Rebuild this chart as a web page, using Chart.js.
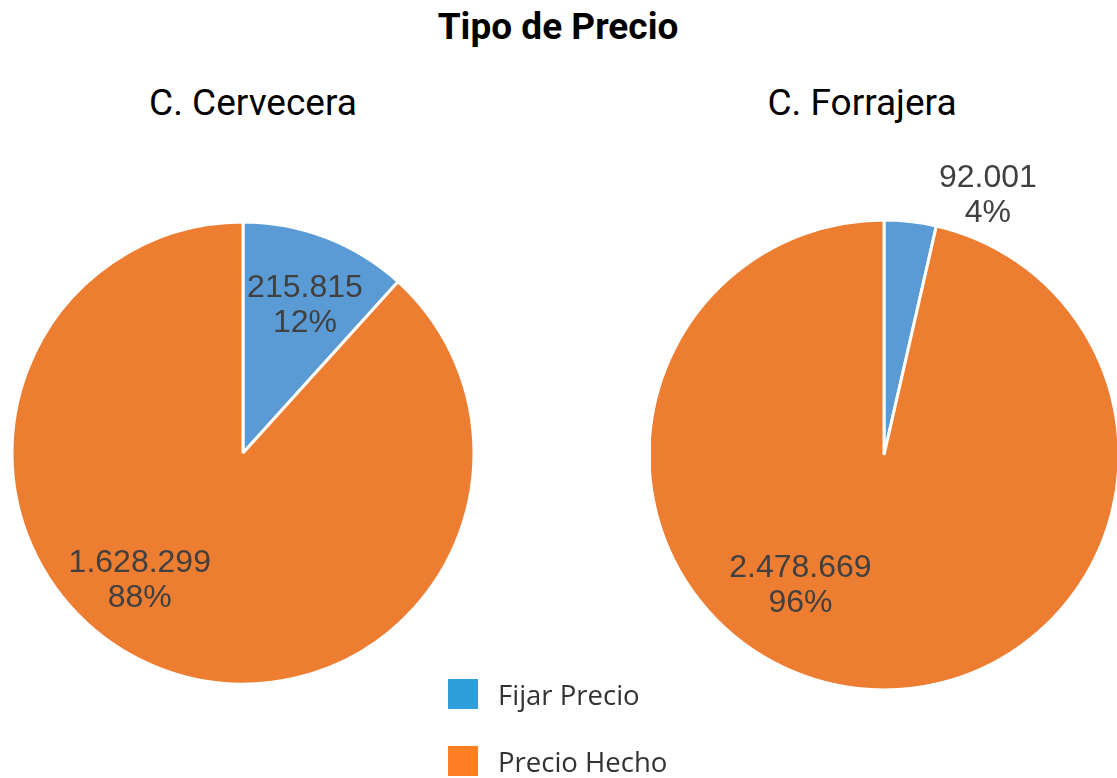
<!DOCTYPE html>
<html>
<head>
<meta charset="utf-8">
<script src="https://cdn.jsdelivr.net/npm/chart.js@4.4.1/dist/chart.umd.min.js"></script>
<style>
  body { margin: 0; background: #fff; width: 1117px; height: 778px; position: relative; overflow: hidden; }
  .txt { position: absolute; font-family: Roboto, sans-serif; color: #000; white-space: nowrap; transform: translateX(-50%); }
  #title { left: 558px; top: 5px; font-size: 37px; font-weight: bold; }
  .sub { top: 81px; font-size: 37px; }
  .wrap { position: absolute; }
  #legend { position: absolute; left: 448px; top: 679px; font-family: "Open Sans", sans-serif; font-size: 27.5px; color: #333; }
  .item { display: flex; align-items: center; height: 30px; margin-bottom: 37px; }
  .sw { width: 30px; height: 30px; margin-right: 20px; }
</style>
</head>
<body>
<div id="title" class="txt">Tipo de Precio</div>
<div class="txt sub" style="left:253px">C. Cervecera</div>
<div class="txt sub" style="left:862px">C. Forrajera</div>
<div class="wrap" style="left:0px;top:150px;width:486px;height:606px"><canvas id="cerveceraChart"></canvas></div>
<div class="wrap" style="left:651px;top:150px;width:466px;height:610px"><canvas id="forrajeraChart"></canvas></div>
<div id="legend"></div>
<script>
const categories = ['Fijar Precio', 'Precio Hecho'];
const cerveceraValues = [215815, 1628299];
const forrajeraValues = [92001, 2478669];

const sliceColors = ['#5b9bd5', '#ed7d31'];
const legendColors = ['#2e9fdb', '#fd7e23'];

// legend html
const legendEl = document.getElementById('legend');
categories.forEach(function(c, i) {
    const item = document.createElement('div');
    item.className = 'item';
    item.innerHTML = '<div class="sw" style="background:' + legendColors[i] + '"></div><span>' + c + '</span>';
    legendEl.appendChild(item);
});

// value + percentage labels, placed by angle (deg from top) and radius fraction
const pieLabels = {
    id: 'pieLabels',
    afterDatasetsDraw(chart, args, opts) {
        const ctx = chart.ctx;
        const meta = chart.getDatasetMeta(0);
        const data = chart.data.datasets[0].data;
        const total = data.reduce((a, b) => a + b, 0);
        ctx.save();
        ctx.font = '32px "Liberation Sans", Arial, sans-serif';
        ctx.fillStyle = '#404040';
        ctx.textAlign = 'center';
        ctx.textBaseline = 'middle';
        meta.data.forEach(function(arc, i) {
            const p = opts.placement[i];
            const a = p[0] * Math.PI / 180;
            const r = arc.outerRadius * p[1];
            const x = arc.x + Math.sin(a) * r;
            const y = arc.y - Math.cos(a) * r;
            const v = data[i].toLocaleString('de-DE');
            const pct = Math.round(data[i] / total * 100) + '%';
            ctx.fillText(v, x, y - 17);
            ctx.fillText(pct, x, y + 18);
        });
        ctx.restore();
    }
};

function makePie(id, values, radius, placement) {
    new Chart(document.getElementById(id).getContext('2d'), {
        type: 'pie',
        data: {
            labels: categories,
            datasets: [{
                data: values,
                backgroundColor: sliceColors,
                borderColor: '#ffffff',
                borderWidth: 3,
                radius: radius
            }]
        },
        options: {
            responsive: true,
            maintainAspectRatio: false,
            animation: false,
            layout: { padding: 0 },
            plugins: {
                legend: { display: false },
                tooltip: { enabled: false },
                pieLabels: { placement: placement }
            }
        },
        plugins: [pieLabels]
    });
}

makePie('cerveceraChart', cerveceraValues, 231, [[22.7, 0.695], [219, 0.71]]);
makePie('forrajeraChart', forrajeraValues, 235, [[21.8, 1.19], [212.6, 0.66]]);
</script>
</body>
</html>
